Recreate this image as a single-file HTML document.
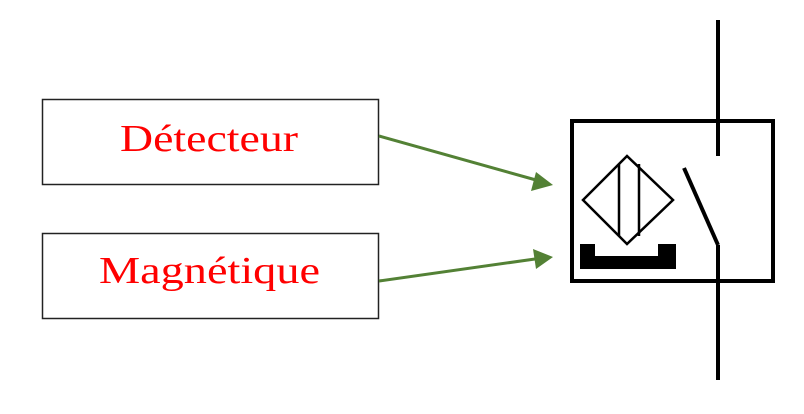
<!DOCTYPE html>
<html><head><meta charset="utf-8"><style>
html,body{margin:0;padding:0;background:#fff;width:804px;height:414px;overflow:hidden}
</style></head><body>
<svg width="804" height="414" viewBox="0 0 804 414" xmlns="http://www.w3.org/2000/svg">
<rect x="42.5" y="99.5" width="336" height="85" fill="#fff" stroke="#222" stroke-width="1.5"/>
<rect x="42.5" y="233.5" width="336" height="85" fill="#fff" stroke="#222" stroke-width="1.5"/>
<text x="120" y="151" textLength="178" lengthAdjust="spacingAndGlyphs" font-family="Liberation Serif, serif" font-size="38" fill="#f00">Détecteur</text>
<text x="99" y="283" textLength="221" lengthAdjust="spacingAndGlyphs" font-family="Liberation Serif, serif" font-size="38" fill="#f00">Magnétique</text>
<g stroke="#538135" stroke-width="3" fill="none">
<line x1="379" y1="136" x2="536" y2="180"/>
<line x1="379" y1="281" x2="535" y2="259"/>
</g>
<polygon points="553,185 531,191 536,172" fill="#538135"/>
<polygon points="553,257 536,269 533,249" fill="#538135"/>
<g stroke="#000" stroke-width="4" fill="none">
<rect x="572" y="121" width="201" height="160"/>
<line x1="718" y1="20" x2="718" y2="156"/>
<line x1="718" y1="245" x2="718" y2="380"/>
<line x1="684" y1="168" x2="718" y2="245"/>
</g>
<g stroke="#000" stroke-width="2.5" fill="none">
<polygon points="583,200 627,156 673,200 627,244"/>
<line x1="619" y1="164" x2="619" y2="236"/>
<line x1="639" y1="164" x2="639" y2="236"/>
</g>
<path d="M580,244 H595 V256 H658 V244 H676 V269 H580 Z" fill="#000"/>
</svg>
</body></html>
